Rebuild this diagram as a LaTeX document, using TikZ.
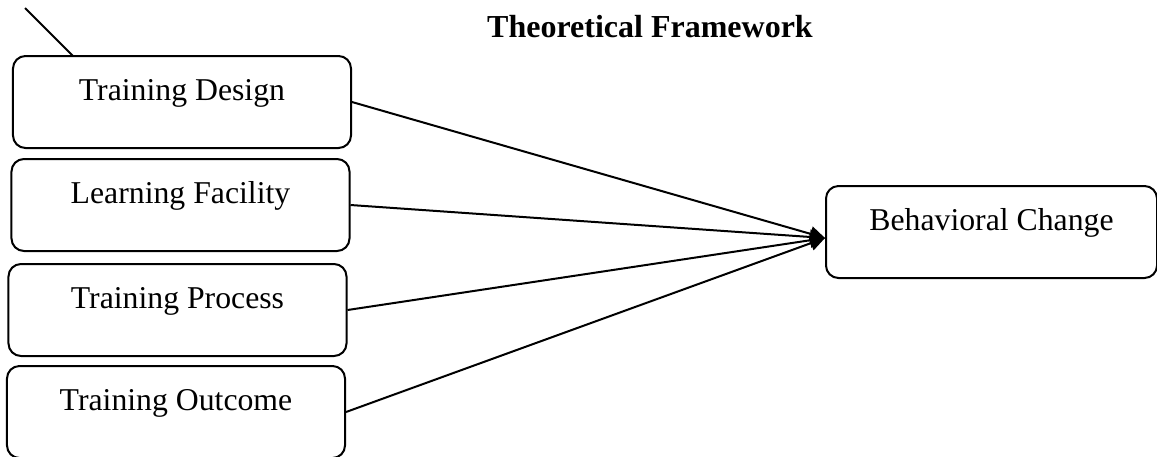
\documentclass[tikz,border=0pt]{standalone}
\usepackage{fontspec}
\setmainfont{Liberation Serif}
\usetikzlibrary{arrows.meta}
\tikzset{
  factor/.style={draw, line width=0.8pt, rounded corners=5pt, minimum width=135.2pt,
    inner sep=0pt, text height=17.6pt, text depth=19.2pt, font=\fontsize{12.7}{15}\selectfont},
  link/.style={line width=0.8pt, -{Triangle[length=6pt,width=6pt]}}
}
\begin{document}
\begin{tikzpicture}[x=0.4pt, y=-0.4pt]
    % 1. Khung
    \useasboundingbox (0,0) rectangle (1157,456);
    \node[font=\fontsize{12.8}{15}\selectfont\bfseries, anchor=base] (title) at (650,37) {Theoretical Framework};

    % 2. Các yếu tố
    \node[factor] (design) at (182,102) {Training Design};
    \node[factor] (facility) at (180.5,205) {Learning Facility};
    \node[factor] (process) at (177.5,310) {Training Process};
    \node[factor] (outcome) at (176,412) {Training Outcome};
    \node[factor, minimum width=132.4pt] (change) at (991.5,232) {Behavioral Change};

    % 3. Mũi tên
    \draw[line width=0.8pt] (25,8) -- (73,56);
    \foreach \f in {design, facility, process, outcome}
        \draw[link] (\f.east) -- ([yshift=-2.4pt]change.west);
\end{tikzpicture}
\end{document}
